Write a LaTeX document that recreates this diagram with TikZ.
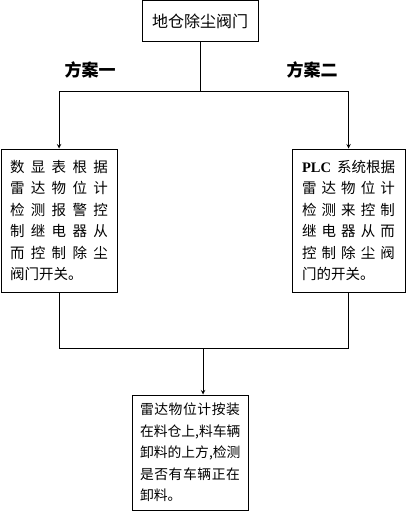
\documentclass[tikz,border=0pt]{standalone}
\usepackage{fontspec}
\newfontfamily\cjk{Noto Sans CJK SC}
\newfontfamily\latinfont{Liberation Serif}
\newcommand{\fullline}[1]{\makebox[\hsize][s]{\spaceskip=0pt plus 1fil\relax #1}}
\begin{document}
\begin{tikzpicture}[x=1pt,y=-1pt,line width=1pt,>=stealth,
    box/.style={draw,inner sep=0pt,align=left,font=\cjk\fontsize{14.5}{21.5}\selectfont},
    plan/.style={font=\cjk\bfseries\fontsize{17}{17}\selectfont}]
      \useasboundingbox(0,0)rectangle(408,511);
      \node[box,minimum width=116pt,minimum height=41pt,font=\cjk\fontsize{16}{16}\selectfont](valve) at(200,21.5){地仓除尘阀门};
      \node[plan](labelone) at(90,70){方案一};
      \node[plan](labeltwo) at(312,70){方案二};
      \node[box,text width=98pt,minimum width=116pt,minimum height=143pt](planone) at(59,220.5){%
        \fullline{数 显 表 根 据}\\\fullline{雷 达 物 位 计}\\\fullline{检 测 报 警 控}\\
        \fullline{制 继 电 器 从}\\\fullline{而 控 制 除 尘}\\阀门开关。};
      \node[box,text width=93pt,minimum width=113pt,minimum height=143pt](plantwo) at(348.5,220.5){%
        \fullline{{\latinfont\bfseries PLC} 系统根据}\\\fullline{雷 达 物 位 计}\\\fullline{检 测 来 控 制}\\
        \fullline{继 电 器 从 而}\\\fullline{控 制 除 尘 阀}\\门的开关。};
      \node[box,text width=100pt,minimum width=116pt,minimum height=115pt,
            font=\cjk\fontsize{13.8}{21.5}\selectfont](radar) at(190,452.5){%
        \fullline{雷 达 物 位 计 按 装}\\\fullline{在 料 仓 上 , 料 车 辆}\\\fullline{卸 料 的 上 方 , 检 测}\\
        \fullline{是 否 有 车 辆 正 在}\\卸料。};
      \coordinate(split) at(200,91);
      \coordinate(merge) at(203,348);
      \draw(valve)--(split);
      \foreach \x in {planone, plantwo}{
        \draw[->](split)-|(\x);
        \draw(\x)|-(merge);
      }
      \draw[->](merge)--(merge|-radar.north);
    \end{tikzpicture}
\end{document}
